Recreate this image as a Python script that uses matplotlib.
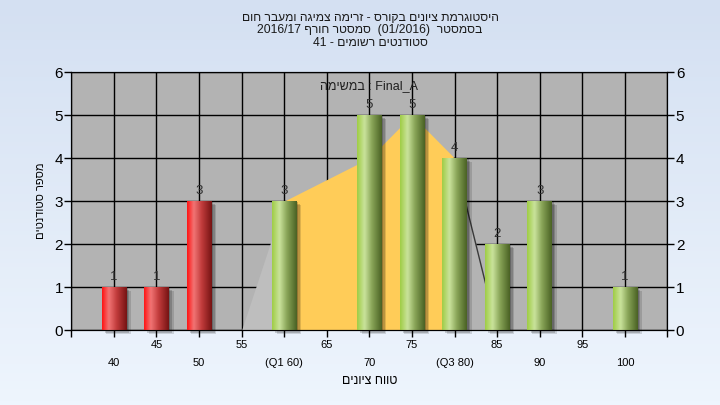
import numpy as np
from matplotlib import pyplot as plt
from matplotlib.colors import LinearSegmentedColormap
from matplotlib.patches import Rectangle

plt.rcParams['font.family'] = ['Liberation Sans', 'DejaVu Sans']

# data
grades = [40, 45, 50, 55, 60, 65, 70, 75, 80, 85, 90, 95, 100]
counts = [1, 1, 3, 0, 3, 0, 5, 5, 4, 2, 3, 0, 1]
tick_values = [35, 40, 45, 50, 55, 60, 65, 70, 75, 80, 85, 90, 95, 100, 105]
tick_labels = ['', '40', '45', '50', '55', '(Q1 60)', '65', '70', '75', '(Q3 80)',
               '85', '90', '95', '100', '']
area_x = [55, 60, 65, 70, 75, 80, 85]
area_y = [0, 3, 3.5, 4, 5, 4, 0]
fail_limit = 55


def rtl(s):
    # matplotlib lays glyphs out left to right, so flip Hebrew runs
    return s[::-1]


title_lines = [
    rtl('היסטוגרמת ציונים בקורס - זרימה צמיגה ומעבר חום'),
    '2016/17 ' + rtl('סמסטר חורף') + '  (01/2016)  ' + rtl('בסמסטר'),
    '41 - ' + rtl('סטודנטים רשומים'),
]
series_text = rtl('במשימה') + ' : Final_A'
x_title = rtl('טווח ציונים')
y_title = rtl('מספר סטודנטים')

fig = plt.figure(figsize=(7.2, 4.05), dpi=100)

# light blue gradient background
bg = fig.add_axes([0, 0, 1, 1], zorder=-1)
bg_cmap = LinearSegmentedColormap.from_list('bg', ['#d4e0f2', '#eef5fd'])
bg.imshow(np.linspace(0, 1, 100).reshape(-1, 1), cmap=bg_cmap, aspect='auto',
          extent=(0, 1, 0, 1))
bg.axis('off')

ax = fig.add_axes([0.099, 0.185, 0.828, 0.637])
ax.set_facecolor('#b3b3b3')
ax.set_axisbelow(True)

# frequency polygon area behind the bars
ax.fill_between(area_x[:2], area_y[:2], color='#bebebe', lw=0, zorder=1)
ax.fill_between(area_x[1:6], area_y[1:6], color='#ffcc58', lw=0, zorder=1)
ax.fill_between(area_x[5:], area_y[5:], color='#b3b3b3', lw=0, zorder=1)
ax.plot(area_x[5:], area_y[5:], color='#3a3a3a', lw=1, zorder=1.2)

red_cmap = LinearSegmentedColormap.from_list(
    'red', [(0, '#ff1414'), (0.27, '#f27575'), (0.6, '#c03a3a'), (1, '#761414')])
green_cmap = LinearSegmentedColormap.from_list(
    'green', [(0, '#9fcd45'), (0.3, '#cae39c'), (0.6, '#89a558'), (1, '#4a6224')])
grad = np.linspace(0, 1, 80).reshape(1, -1)
bar_w = 2.9

for g, c in zip(grades, counts):
    if c == 0:
        continue
    x0 = g - bar_w / 2
    for dx, dy, a in [(0.2, 0.03, 0.2), (0.38, 0.06, 0.17), (0.56, 0.1, 0.13)]:
        ax.add_patch(Rectangle((x0 + dx, -dy), bar_w, c, facecolor='black',
                               alpha=a, lw=0, zorder=2, clip_on=False))
    cmap = red_cmap if g < fail_limit else green_cmap
    ax.imshow(grad, cmap=cmap, extent=(x0, x0 + bar_w, 0, c), aspect='auto',
              interpolation='bicubic', zorder=3)
    ax.annotate(str(c), (g, c), xytext=(0, 3), textcoords='offset points',
                ha='center', va='bottom', fontsize=9.5, color='#303030', zorder=4)

ax.set_xlim(35, 105)
ax.set_ylim(0, 6)
ax.grid(True, color='black', lw=1)

# alternate rows: 45, 55 ... on top, 40, 50 ... below
labels = []
for i, lbl in enumerate(tick_labels):
    if lbl == '':
        labels.append('')
    elif i % 2 == 1:
        labels.append('\n' + lbl)
    else:
        labels.append(lbl)
ax.set_xticks(tick_values)
ax.set_xticklabels(labels, fontsize=8, linespacing=2.0)
ax.tick_params(axis='x', length=5, width=1, pad=2)
ax.set_yticks(range(7))
ax.tick_params(axis='y', length=5, width=1, labelsize=11, pad=1)
for sp in ax.spines.values():
    sp.set_color('black')

ax2 = ax.twinx()
ax2.set_ylim(0, 6)
ax2.set_yticks(range(7))
ax2.tick_params(axis='y', length=5, width=1, labelsize=11, pad=1)

ax.text(0.5, 0.945, series_text, transform=ax.transAxes, ha='center', va='center',
        fontsize=9, color='#202020')

ax.set_xlabel(x_title, fontsize=9, labelpad=5)
ax.set_ylabel(y_title, fontsize=8, labelpad=6)

for line, y in zip(title_lines, [0.955, 0.925, 0.893]):
    fig.text(0.514, y, line, ha='center', va='center', fontsize=8.7, color='#1a1a1a')

fig.savefig('out.png', dpi=100)
